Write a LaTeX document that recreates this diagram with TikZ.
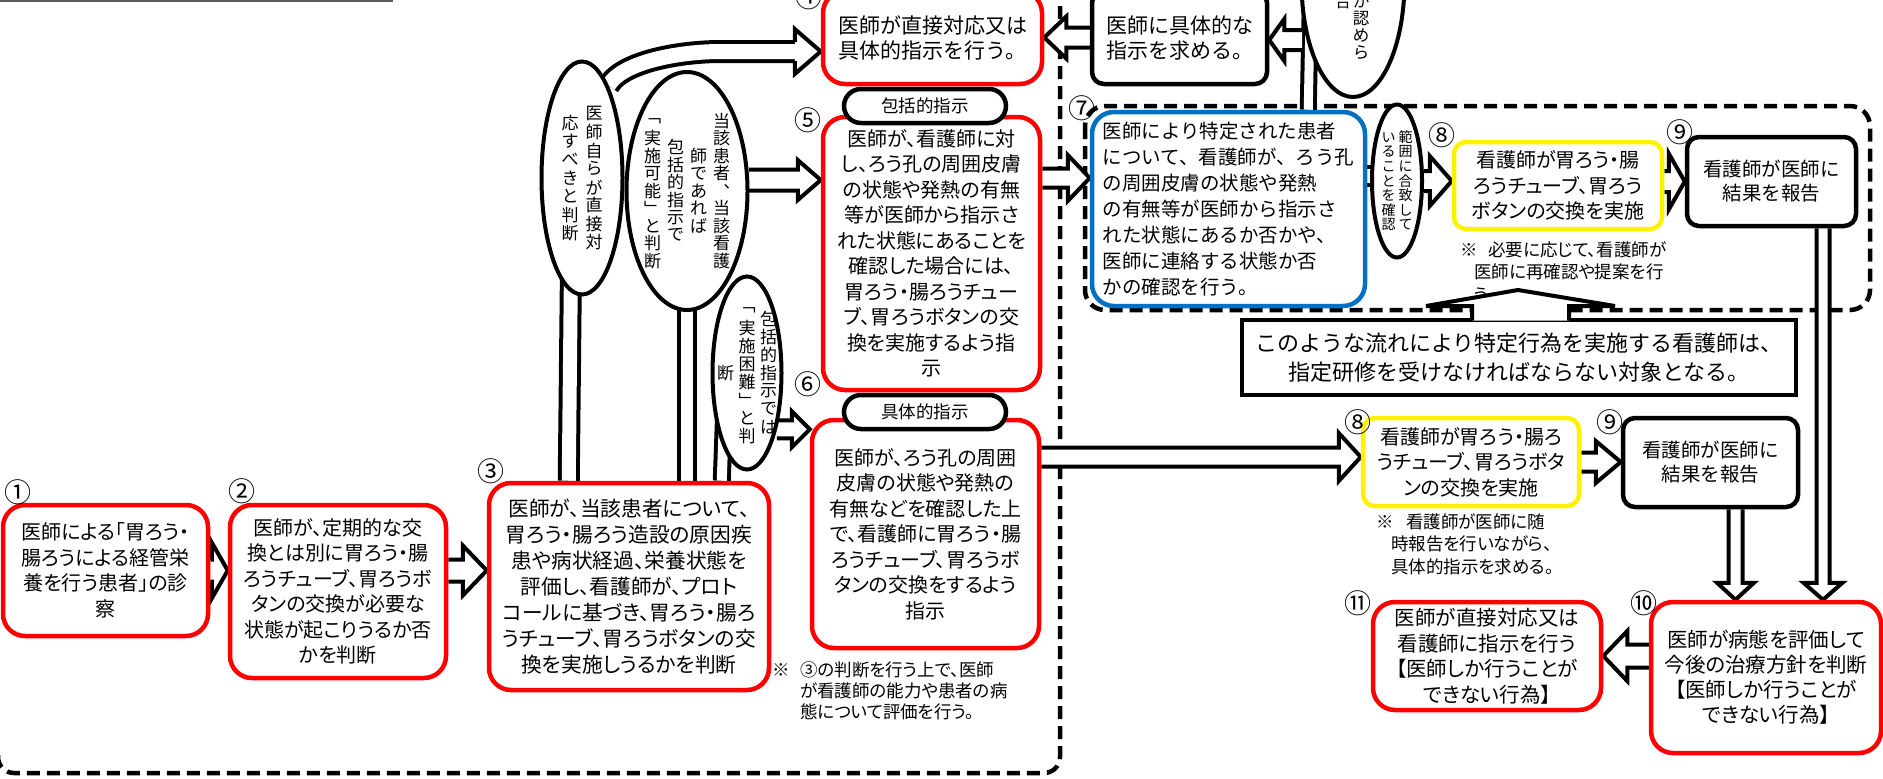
\documentclass[tikz,border=0pt]{standalone}
\usepackage{fontspec}
\setmainfont{Noto Sans CJK JP}
\newfontfamily\jpm{Noto Sans CJK JP}
\newfontfamily\jpp[RawFeature=+palt]{Noto Sans CJK JP}
\usetikzlibrary{calc}
\usetikzlibrary{shapes.geometric}
\usetikzlibrary{backgrounds}
\definecolor{boxblue}{RGB}{0,112,192}
\definecolor{rulegray}{RGB}{90,90,90}

% one column of upright (tategaki) text
\ExplSyntaxOn
\NewDocumentCommand \tcol { O{22pt} m }
 {
  \dim_set:Nn \l_tmpa_dim { \baselineskip }
  \ensuremath
   {
    \vcenter
     {
      \offinterlineskip
      \tl_map_inline:nn {#2}
       {
        \hbox_to_wd:nn {#1}
         { \hss \vbox_to_ht:nn { \l_tmpa_dim } { \vss \hbox:n {##1} \vss } \hss }
       }
     }
   }
 }
\ExplSyntaxOff

% hollow block arrow: shaft half width, head half width, head length, from, to
\newcommand\barrow[5]{%
  \path[blockarrow] let \p1=#4, \p2=#5,
      \n1={atan2(\y2-\y1,\x2-\x1)}, \n2={veclen(\x2-\x1,\y2-\y1)} in
    [shift={(\p1)}, rotate=\n1]
    (0pt,-#1pt) -- (\n2-#3pt,-#1pt) -- (\n2-#3pt,-#2pt) -- (\n2,0pt)
    -- (\n2-#3pt,#2pt) -- (\n2-#3pt,#1pt) -- (0pt,#1pt);
}

\tikzset{
  redbox/.style={draw=red, line width=4.5pt, rounded corners=22pt, fill=white,
    align=center, inner sep=0pt, font=\jpp\fontsize{20}{25.5}\selectfont},
  blkbox/.style={draw=black, line width=4.5pt, rounded corners=12pt, fill=white,
    align=center, inner sep=0pt, font=\jpm\fontsize{19.5}{24}\selectfont},
  ylwbox/.style={redbox, draw=yellow, rounded corners=12pt},
  blubox/.style={draw=boxblue, line width=4.5pt, rounded corners=22pt, fill=white,
    align=left, inner sep=0pt, font=\jpm\fontsize{19.5}{26}\selectfont},
  tagbox/.style={draw, line width=4.5pt, rounded corners=17pt, fill=white,
    minimum width=162pt, minimum height=34pt, inner sep=0pt,
    font=\jpm\fontsize{17.5}{20}\selectfont},
  oval/.style={ellipse, draw, line width=4pt, fill=white, inner sep=0pt},
  vlab/.style={inner sep=0pt, font=\jpm\fontsize{17}{18.3}\selectfont},
  num/.style={inner sep=0pt, font=\jpm\fontsize{27}{27}\selectfont},
  notetext/.style={inner sep=0pt, align=left, anchor=north west,
    font=\jpp\fontsize{17.5}{22.5}\selectfont},
  stem/.style={line width=4pt, double=white},
  blockarrow/.style={draw, fill=white, line width=4pt, line join=miter},
  dashline/.style={line width=4.5pt, dash pattern=on 13pt off 7pt}
}

\begin{document}
\begin{tikzpicture}[x=1pt, y=-1pt]
\useasboundingbox (0,0) rectangle (1883,779);

% steps 1-3
\node[redbox, minimum width=205pt, minimum height=131pt] (b1) at (105.5,570.5)
  {医師による「胃ろう・\\腸ろうによる経管栄\\養を行う患者」の診\\察};
\node[redbox, minimum width=216pt, minimum height=173pt] (b2) at (338,591.5)
  {医師が、定期的な交\\換とは別に胃ろう・腸\\ろうチューブ、胃ろうボ\\タンの交換が必要な\\状態が起こりうるか否\\かを判断};
\node[redbox, minimum width=280pt, minimum height=207pt, font=\jpp\fontsize{20.7}{26}\selectfont] (b3) at (629,586.5)
  {医師が、当該患者について、\\胃ろう・腸ろう造設の原因疾\\患や病状経過、栄養状態を\\評価し、看護師が、プロト\\コールに基づき、胃ろう・腸ろ\\うチューブ、胃ろうボタンの交\\換を実施しうるかを判断};
\node[notetext, font=\jpp\fontsize{17.5}{21}\selectfont] (m3) at (772,661)
  {\makebox[28pt][l]{※}③の判断を行う上で、医師\\\hspace*{28pt}が看護師の能力や患者の病\\\hspace*{28pt}態について評価を行う。};

% steps 4-6
\node[redbox, minimum width=219pt, minimum height=93pt, font=\jpm\fontsize{21}{25}\selectfont] (b4) at (932.5,37.5)
  {医師が直接対応又は\\具体的指示を行う。};
\node[redbox, minimum width=217pt, minimum height=273pt] (b5) at (931.5,253.5)
  {医師が、看護師に対\\し、ろう孔の周囲皮膚\\の状態や発熱の有無\\等が医師から指示さ\\れた状態にあることを\\確認した場合には、\\胃ろう・腸ろうチュー\\ブ、胃ろうボタンの交\\換を実施するよう指\\示};
\node[redbox, minimum width=227pt, minimum height=228pt] (b6) at (925.5,534)
  {医師が、ろう孔の周囲\\皮膚の状態や発熱の\\有無などを確認した上\\で、看護師に胃ろう・腸\\ろうチューブ、胃ろうボ\\タンの交換をするよう\\指示};
\node[tagbox] (t5) at (925,106) {包括的指示};
\node[tagbox] (t6) at (925,412) {具体的指示};

% judgements
\node[oval, minimum width=81pt, minimum height=233pt,
  label={[vlab]center:{\tcol[24pt]{応すべきと判断}\tcol[24pt]{医師自らが直接対}}}] (eA) at (582,178) {};
\node[oval, minimum width=121pt, minimum height=238pt,
  label={[vlab, font=\jpm\fontsize{17}{17.5}\selectfont]center:{\tcol[23pt]{﹁実施可能﹂と判断}\tcol[23pt]{包括的指示で}\tcol[23pt]{師であれば}\tcol[23pt]{当該患者︑当該看護}}}] (eB) at (687,191) {};
\node[oval, minimum width=69pt, minimum height=193pt,
  label={[vlab, font=\jpm\fontsize{17}{18}\selectfont]center:{\tcol[21.5pt]{断}\tcol[21.5pt]{﹁実施困難﹂と判}\tcol[21.5pt]{包括的指示では}}}] (eC) at (747,373) {};
\node[oval, minimum width=103pt, minimum height=230pt] (eD) at (1353,-18) {};
\node[vlab, font=\jpm\fontsize{16.5}{17}\selectfont] (eDa) at (1361,27) {\tcol[19pt]{か認めら}};
\node[vlab, font=\jpm\fontsize{16.5}{17}\selectfont] (eDb) at (1343,1) {\tcol[19pt]{合}};
\node[oval, minimum width=50pt, minimum height=153pt,
  label={[vlab, font=\jpm\fontsize{14}{14.5}\selectfont]center:{\tcol[17pt]{いることを確認}\tcol[17pt]{範囲に合致して}}}] (eE) at (1397,181) {};

% nurse side
\node[blkbox, minimum width=175pt, minimum height=93pt, align=left, font=\jpm\fontsize{21}{25}\selectfont] (b4b) at (1179.5,37.5)
  {医師に具体的な\\指示を求める。};
\node[blubox, minimum width=273pt, minimum height=194pt] (b7) at (1228.5,209)
  {医師により特定された患者\\について、看護師が、ろう孔\\の周囲皮膚の状態や発熱\\の有無等が医師から指示さ\\れた状態にあるか否かや、\\医師に連絡する状態か否\\かの確認を行う。};
\node[ylwbox, minimum width=208pt, minimum height=87pt] (b8t) at (1558,185.5)
  {看護師が胃ろう・腸\\ろうチューブ、胃ろう\\ボタンの交換を実施};
\node[blkbox, minimum width=169pt, minimum height=89pt] (b9t) at (1771.5,181.5)
  {看護師が医師に\\結果を報告};
\node[notetext] (m8t) at (1460,241)
  {\makebox[28pt][l]{※}必要に応じて、看護師が\\\hspace*{14pt}医師に再確認や提案を行\\\hspace*{14pt}う};
\node[draw, line width=4pt, fill=white, minimum width=554pt, minimum height=75pt, inner sep=0pt,
  align=center, font=\jpm\fontsize{22}{29}\selectfont] (co) at (1519,357.5)
  {このような流れにより特定行為を実施する看護師は、\\指定研修を受けなければならない対象となる。};
\draw[line width=4pt, fill=white, line join=miter] ($(co.north)+(-47,2.5)$) -- ++(0,-14.5) -- ++(-46,0)
  -- ($(co.north)+(-1,-28)$) -- ($(co.north)+(96,-12)$) -- ++(-46,0) -- ($(co.north)+(50,2.5)$);
\node[ylwbox, minimum width=216pt, minimum height=88pt] (b8b) at (1471,462)
  {看護師が胃ろう・腸ろ\\うチューブ、胃ろうボタ\\ンの交換を実施};
\node[blkbox, minimum width=175pt, minimum height=89pt] (b9b) at (1710.5,462.5)
  {看護師が医師に\\結果を報告};
\node[notetext] (m8b) at (1376,513)
  {\makebox[30pt][l]{※}看護師が医師に随\\\hspace*{15pt}時報告を行いながら、\\\hspace*{15pt}具体的指示を求める。};
\node[redbox, minimum width=230pt, minimum height=151pt, font=\jpp\fontsize{20.5}{25}\selectfont] (b10) at (1766,677.5)
  {医師が病態を評価して\\今後の治療方針を判断\\【医師しか行うことが\\できない行為】};
\node[redbox, minimum width=228pt, minimum height=108pt, font=\jpp\fontsize{20.5}{25.5}\selectfont] (b11) at (1487,656)
  {医師が直接対応又は\\看護師に指示を行う\\【医師しか行うことが\\できない行為】};

% step numbers
\node[num] (n1) at (18,492) {①};
\node[num] (n2) at (242,491) {②};
\node[num] (n3) at (491,471) {③};
\node[num] (n4) at (809,-3) {④};
\node[num] (n5) at (808,120) {⑤};
\node[num] (n6) at (808,384) {⑥};
\node[num] (n7) at (1082,108) {⑦};
\node[num] (n8t) at (1442,135) {⑧};
\node[num] (n9t) at (1680,132) {⑨};
\node[num] (n8b) at (1358,422) {⑧};
\node[num] (n9b) at (1610,422) {⑨};
\node[num] (n10) at (1644,603) {⑩};
\node[num] (n11) at (1358,603) {⑪};

\begin{scope}[on background layer]
\draw[rulegray, line width=2pt] (0,1) -- (393,1);
\draw[dashline, rounded corners=16pt] (-2,755) -- (-2,773) -- (1060,773) -- (1060,-20);
\draw[dashline, rounded corners=20pt] (1085,106) rectangle (1870,310);

% stems into the judgements
\draw[stem, double distance=14pt] ($(b3.north west)+(82,0)$) -- ($(eA.south)+(-11,-30)$);
\draw[stem, double distance=12pt] (b3.north -| eB.south) -- ($(eB.south)+(0,-30)$);
\draw[stem, double distance=10pt] ($(b3.north west)+(235,0)$) -- ($(eC.center)+(-23,45)$);
\coordinate (y7) at ($(b7.east)+(0,-33)$);
\draw[stem, double distance=14pt] (y7) -- (eE.center |- y7);
\draw[stem, double distance=9pt] ($(b7.north west)+(218.5,0)$) -- ($(eD.center)+(-42.5,10)$);
\coordinate (t4) at ($(b4.west)+(0,14)$);
\draw[stem, double distance=15pt] (eA.74) .. controls +(14,-24) and ($(t4)+(-140,0)$) .. ($(t4)+(-100,0)$) -- ($(t4)+(-26,0)$);

% block arrows
\barrow{9.5}{22.5}{26}{($(t4)+(-26,0)$)}{(t4)}
\barrow{11}{28}{16}{(b1.east)}{(b2.west |- b1.east)}
\barrow{11}{25}{24}{(b2.east |- b1.east)}{(b3.west |- b1.east)}
\barrow{10.5}{20}{23}{(eB.10)}{(b5.west |- eB.10)}
\coordinate (y57) at ($(b7.west)+(0,-31)$);
\barrow{9.5}{23}{22}{(b5.east |- y57)}{(y57)}
\barrow{9}{18}{18}{(eC.-62)}{(b6.west |- eC.-62)}
\barrow{10}{25}{22}{(eE.east)}{(b8t.west |- eE.east)}
\barrow{10.5}{28}{16}{(b8t.east |- b9t.west)}{(b9t.west)}
\coordinate (y68) at ($(b8b.west)+(0,-5)$);
\barrow{9.5}{24}{22}{(b6.east |- y68)}{(y68)}
\barrow{9.5}{21}{25}{(b8b.east)}{(b9b.west |- b8b.east)}
\barrow{11.5}{25}{24}{(b10.west |- b11.east)}{(b11.east)}
\coordinate (x9b) at ($(b9b.south)+(25,0)$);
\barrow{7}{18.5}{17}{(x9b)}{(x9b |- b10.north)}
\coordinate (x9t) at ($(b9t.south)+(51.5,0)$);
\barrow{6.5}{19.5}{17}{(x9t)}{(x9t |- b10.north)}
\coordinate (yD) at ($(eD.center)+(-51,58)$);
\barrow{10}{21}{15}{(yD)}{(b4b.east |- yD)}
\barrow{10}{21}{22}{(b4b.west)}{(b4.east)}
\end{scope}
\end{tikzpicture}
\end{document}
